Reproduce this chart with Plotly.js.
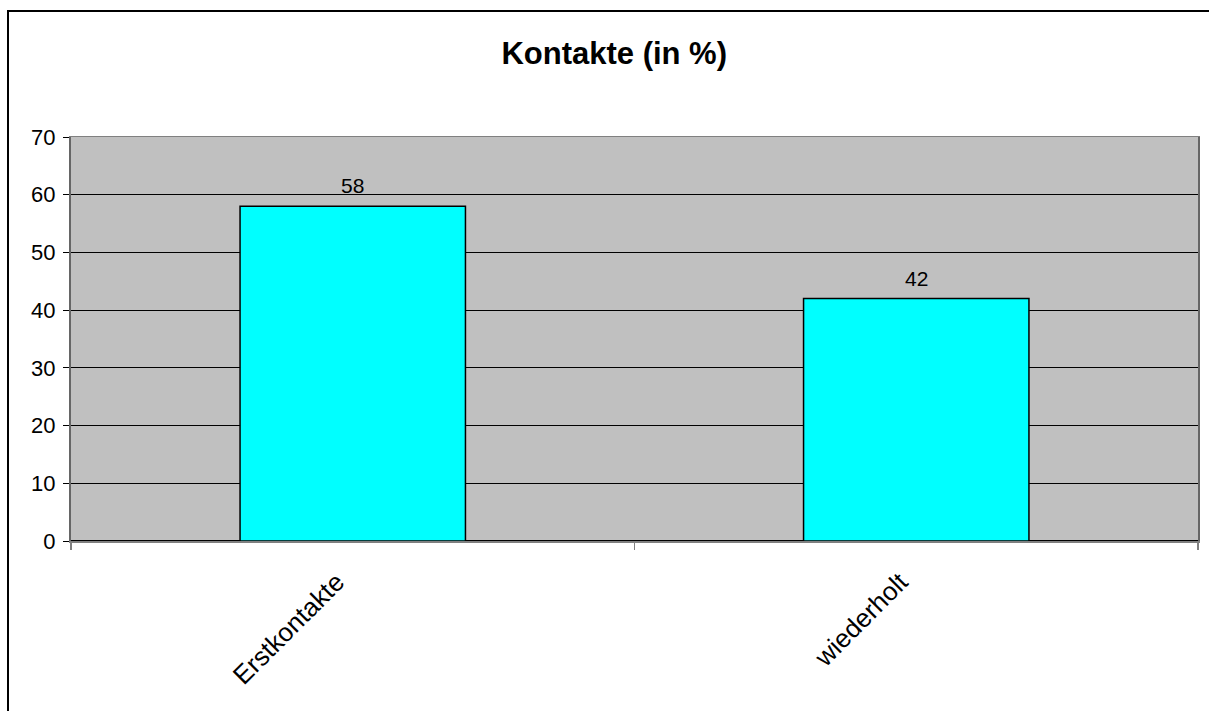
<!DOCTYPE html>
<html>
<head>
<meta charset="utf-8">
<script src="https://cdn.plot.ly/plotly-3.0.1.min.js"></script>
<style>
html,body{margin:0;padding:0;background:#fff;}
#wrap{position:relative;width:1209px;height:711px;overflow:hidden;}
#chart{position:absolute;left:0;top:0;width:1209px;height:711px;}
#frame{position:absolute;left:7px;top:10px;width:1300px;height:800px;border-left:2px solid #000;border-top:2px solid #000;pointer-events:none;z-index:5;}
</style>
</head>
<body>
<div id="wrap">
<div id="chart"></div>
<div id="frame"></div>
</div>
<script>
const categories = ["Erstkontakte", "wiederholt"];
const values = [58, 42];
const yTicks = [0, 10, 20, 30, 40, 50, 60, 70];
const chartTitle = "Kontakte (in %)";

const FONT = "Liberation Sans, Arial, sans-serif";

const trace = {
  type: "bar",
  x: categories,
  y: values,
  width: 0.4,
  marker: {color: "#00FFFF", line: {color: "#000000", width: 1.5}},
  hoverinfo: "none"
};

const annotations = categories.map((c, i) => ({
  x: c, y: values[i], xref: "x", yref: "y",
  text: String(values[i]), showarrow: false,
  yanchor: "bottom", yshift: 7,
  font: {family: FONT, size: 21, color: "#000"}
}));

const layout = {
  width: 1209, height: 711,
  margin: {l: 71, r: 11, t: 137, b: 170},
  paper_bgcolor: "rgba(0,0,0,0)",
  plot_bgcolor: "#C0C0C0",
  showlegend: false,
  title: {
    text: "<b>" + chartTitle + "</b>",
    font: {family: FONT, size: 31, color: "#000"},
    x: 0.482, xanchor: "center", xref: "paper",
    y: 0.925, yanchor: "middle"
  },
  xaxis: {
    type: "category",
    tickson: "boundaries",
    ticks: "outside", ticklen: 7, tickcolor: "#808080", tickwidth: 1.5,
    tickangle: -45,
    ticklabelstandoff: 14,
    ticklabelshift: -16,
    tickfont: {family: FONT, size: 26, color: "#000"},
    showline: true, linecolor: "#808080", linewidth: 1.5, mirror: true,
    showgrid: false, zeroline: false
  },
  yaxis: {
    range: [0, 70],
    tickvals: yTicks,
    ticktext: yTicks.map(String),
    ticks: "outside", ticklen: 6, tickcolor: "#000", tickwidth: 1,
    ticklabelstandoff: 3,
    tickfont: {family: FONT, size: 22, color: "#000"},
    showline: true, linecolor: "#666666", linewidth: 2, mirror: true,
    showgrid: true, gridcolor: "#000000", gridwidth: 1,
    zeroline: true, zerolinecolor: "#000000", zerolinewidth: 1.5
  },
  annotations: annotations
};

Plotly.newPlot("chart", [trace], layout, {displayModeBar: false, staticPlot: true});
</script>
</body>
</html>
